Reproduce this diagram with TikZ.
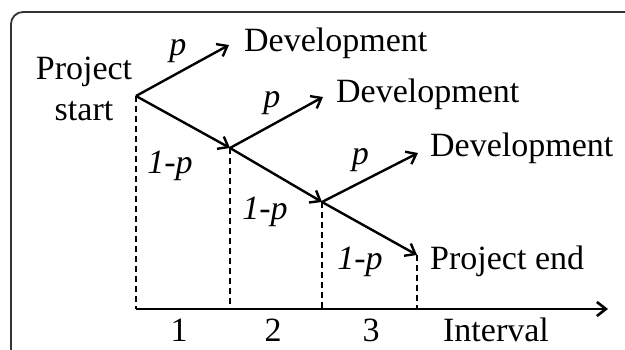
\documentclass[tikz,border=0pt]{standalone}
\usepackage{fontspec}
\setmainfont{Liberation Serif}
\usetikzlibrary{arrows.meta, positioning}
\tikzset{branch/.style={line width=2.4pt, -{Straight Barb[length=9pt,width=14pt]}},
  guide/.style={line width=1.6pt, dash pattern=on 6pt off 4pt},
  lbl/.style={font=\fontsize{34}{41}\selectfont, inner sep=0pt},
  prob/.style={lbl, font=\fontsize{34}{41}\selectfont\itshape}}

\begin{document}
\begin{tikzpicture}[x=1pt, y=-1pt]
  \useasboundingbox (0,0) rectangle (625,350);
  \clip (0,0) rectangle (625,350);
  \draw[line width=1.8pt, draw=black!80, rounded corners=12pt] (11,12) rectangle (660,380);
  % branch points
  \coordinate (start) at (136,96);
  \coordinate (n1) at (230,148);
  \coordinate (n2) at (322,202);
  \coordinate (stop) at (417,255);
  \coordinate (d1) at (229,45);
  \coordinate (d2) at (323,97);
  \coordinate (d3) at (418,153);
  % axis
  \coordinate (b0) at (136,309);
  \coordinate (b1) at (230,309);
  \coordinate (b2) at (322,309);
  \coordinate (b3) at (417,309);
  \coordinate (axend) at (608,309);

  \node[lbl, align=center, anchor=north] (pstart) at (84,57) {Project\\start};
  \node[lbl, anchor=base west] (dev1) at (244,52) {Development};
  \node[lbl, anchor=base west] (dev2) at (336,103) {Development};
  \node[lbl, anchor=base west] (dev3) at (430,157) {Development};
  \node[lbl, anchor=base west] (pend) at (430,270) {Project end};

  \draw[branch] (start) -- node[prob, pos=0.45, above=9pt] (p1) {p} (d1);
  \draw[branch] (n1) -- node[prob, pos=0.45, above=9pt] (p2) {p} (d2);
  \draw[branch] (n2) -- node[prob, pos=0.4, above=9pt] (p3) {p} (d3);
  \draw[branch] (start) -- (n1);
  \draw[branch] (n1) -- (n2);
  \draw[branch] (n2) -- (stop);

  \node[prob, anchor=base] (q1) at (170,174) {1-p};
  \node[prob, anchor=base] (q2) at (265,220) {1-p};
  \node[prob, anchor=base] (q3) at (360,270) {1-p};

  \draw[guide] (start) -- (b0);
  \draw[guide] (n1) -- (b1);
  \draw[guide] (n2) -- (b2);
  \draw[guide] (stop) -- (b3);
  \draw[line width=2.6pt, -{Straight Barb[length=9pt,width=14pt]}] (b0) -- (axend);

  \node[lbl, anchor=base] (i1) at (179,342) {1};
  \node[lbl, anchor=base] (i2) at (273,342) {2};
  \node[lbl, anchor=base] (i3) at (371,342) {3};
  \node[lbl, anchor=base] (ilabel) at (496,342) {Interval};
\end{tikzpicture}
\end{document}
